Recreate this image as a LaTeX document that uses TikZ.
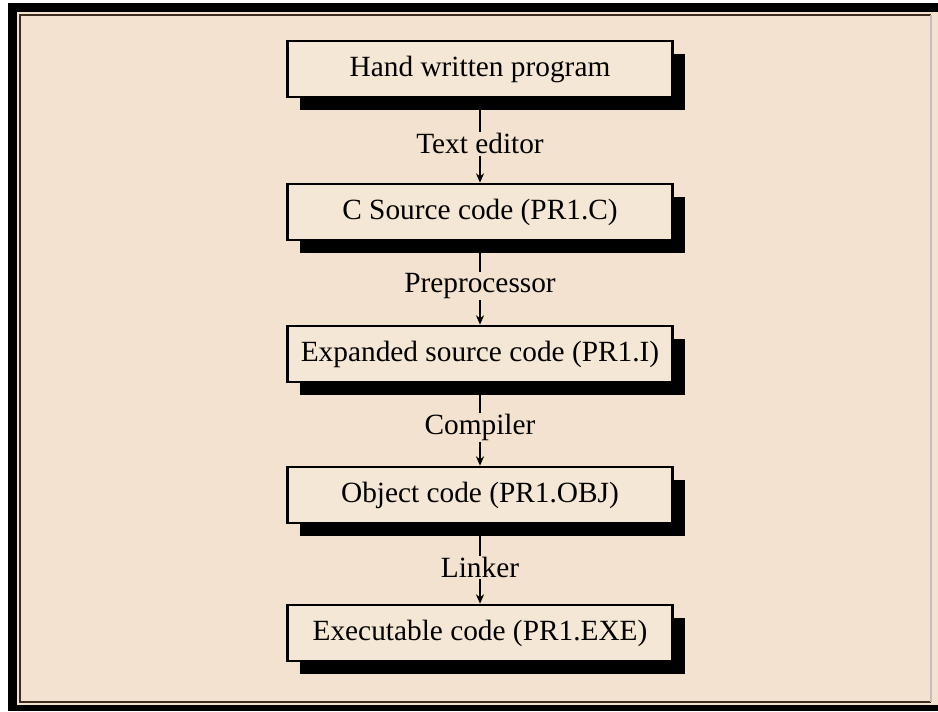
\documentclass[tikz,border=0pt]{standalone}
\usepackage{fontspec}
\setmainfont{Liberation Serif}
\usetikzlibrary{shadows,arrows.meta}
\definecolor{paper}{RGB}{242,226,207}
\definecolor{boxfill}{RGB}{245,231,214}
\definecolor{rim}{RGB}{60,45,30}
\begin{document}
\begin{tikzpicture}[x=0.75pt,y=-0.75pt]
\tikzstyle{blk}=[rectangle, draw, line width=2pt, fill=boxfill,
                        minimum width=288.75pt, minimum height=42pt, inner sep=0pt,
                        font=\fontsize{22}{26}\selectfont,
                        drop shadow={shadow xshift=9pt, shadow yshift=-10pt, opacity=1, fill=black}]
\tikzstyle{lbl}=[fill=paper, inner sep=1pt, pos=0.54, font=\fontsize{22}{26}\selectfont]
\tikzstyle{flow}=[line width=1.5pt, -{Stealth[length=7pt,width=6pt]}]
\useasboundingbox (0,0) rectangle (938,711);
% frame
\fill[white] (0,0) rectangle (938,711);
\fill[black] (8,3) rectangle (938,711);
\fill[paper] (17,12) rectangle (938,705);
\draw[rim, line width=1.5pt] (931,702) -- (20,702) -- (20,15) -- (931,15);
\draw[black!25, line width=0.8pt] (931,15) -- (931,702);
	\node[blk] (A) at (480,69){Hand written program};
	\node[blk] (B) at (480,212){C Source code (PR1.C)};
	\node[blk] (C) at (480,354){Expanded source code (PR1.I)};
	\node[blk] (D) at (480,495){Object code (PR1.OBJ)};
	\node[blk] (E) at (480,633){Executable code (PR1.EXE)};
\draw[flow] (A) -- node[lbl]{Text editor} (B);
\draw[flow] (B) -- node[lbl]{Preprocessor} (C);
\draw[flow] (C) -- node[lbl]{Compiler} (D);
\draw[flow] (D) -- node[lbl]{Linker} (E);
\end{tikzpicture}
\end{document}
